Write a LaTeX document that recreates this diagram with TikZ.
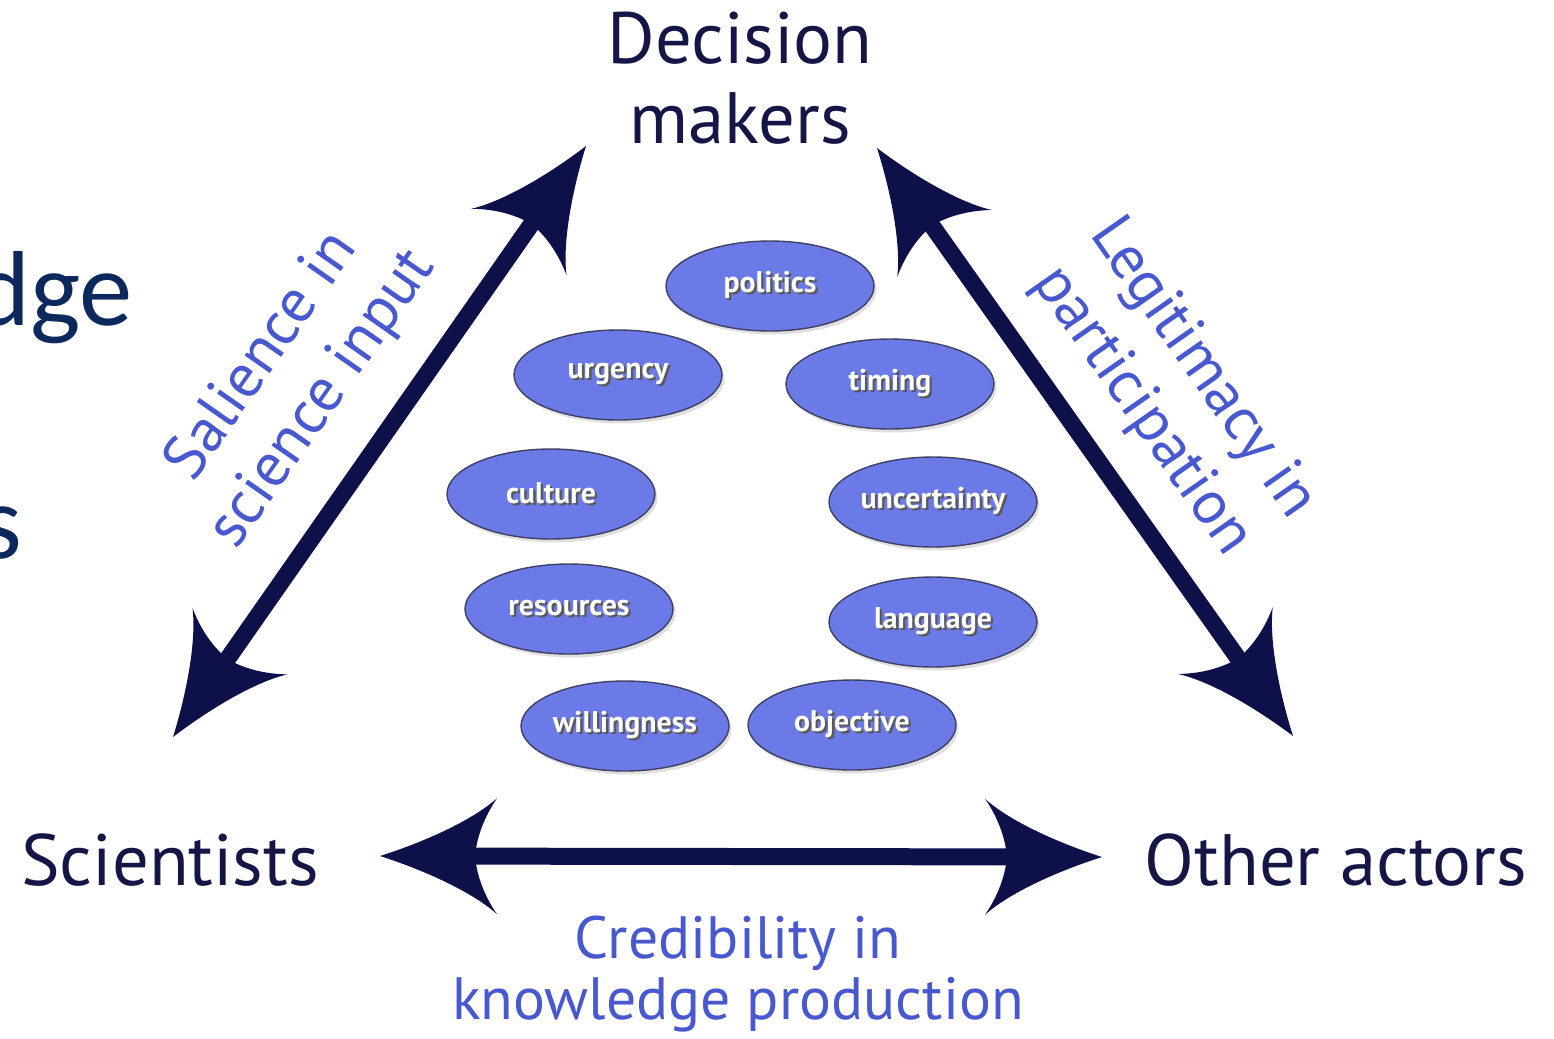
\documentclass[tikz,border=0pt]{standalone}
\usepackage{fontspec}
\setmainfont{PT Sans}
\newfontfamily\calfont{Carlito}
\usetikzlibrary{decorations.markings,shadows,shapes.geometric}

\definecolor{navy}{RGB}{14,16,74}
\definecolor{labdark}{RGB}{20,22,70}
\definecolor{labblue}{RGB}{72,88,206}
\definecolor{ellfill}{RGB}{108,122,232}
\definecolor{ellline}{RGB}{62,64,100}
\definecolor{slideblue}{RGB}{12,40,92}

\newcommand{\shtext}[1]{\makebox[0pt][l]{\kern1.3pt\raisebox{-1.3pt}{\textcolor{black!65}{#1}}}\textcolor{white}{#1}}
\newcommand{\arrhead}{\fill[navy] (0,0) .. controls (-50,16) and (-95,38) .. (-117,58) .. controls (-106,42) and (-97,22) .. (-95,0) .. controls (-97,-22) and (-106,-42) .. (-117,-58) .. controls (-95,-38) and (-50,-16) .. (0,0) -- cycle;}

\tikzset{
  ell/.style={ellipse, draw=ellline, line width=0.8pt, fill=ellfill,
    minimum width=4.16cm, minimum height=1.8cm, inner sep=0pt,
    font=\bfseries\fontsize{17}{20}\selectfont,
    drop shadow={opacity=0.25, shadow xshift=0.05cm, shadow yshift=-0.07cm}},
  actor/.style={font=\fontsize{41.4}{45.4}\selectfont, text=labdark, inner sep=0pt},
  bluelab/.style={font=\fontsize{34}{35.2}\selectfont, text=labblue, inner sep=0pt, align=center},
  rotlab/.style={font=\fontsize{35.1}{42}\selectfont, text=labblue, inner sep=0pt, align=center},
  dblarrow/.style={draw=navy, line width=0.34cm, shorten <=1.7cm, shorten >=1.7cm,
    postaction={decorate, decoration={markings,
      mark=at position 0 with {\begin{scope}[rotate=180]\arrhead\end{scope}},
      mark=at position 1 with {\arrhead}}}},
}

\begin{document}
\begin{tikzpicture}[x=0.02cm, y=-0.02cm]
\fill[white] (0,0) rectangle (1554,1038);
\useasboundingbox (0,0) rectangle (1554,1038);

% slide fragments
\node[font=\calfont\fontsize{60.7}{64}\selectfont, text=slideblue, anchor=base west, inner sep=0pt] (frag1) at (-26,325) {dge};
\node[font=\calfont\fontsize{60.7}{64}\selectfont, text=slideblue, anchor=base west, inner sep=0pt] (frag2) at (-20,558) {s};

% actors
\node[actor, align=center] (dm) at (740,78) {Decision\\makers};
\node[actor, anchor=base] (sci) at (170,885) {Scientists};
\node[actor, anchor=base] (oth) at (1336,885) {Other actors};

% arrow end points
\coordinate (sciL) at (173,737);
\coordinate (dmL) at (586,146);
\coordinate (dmR) at (877,148);
\coordinate (othR) at (1293,736);
\coordinate (sciB) at (380,856);
\coordinate (othB) at (1102,857);

\path[dblarrow] (sciL) -- (dmL);
\path[dblarrow] (dmR) -- (othR);
\path[dblarrow] (sciB) -- (othB);

% labels
\node[bluelab] (cred) at (738,974) {Credibility in\\knowledge production};
\node[rotlab, rotate=55] (sal) at (293,378) {Salience in\\science input};
\node[rotlab, rotate=-55] (leg) at (1172,390) {Legitimacy in\\participation};

% factors
\node[ell] (politics) at (770,286) {\shtext{politics}};
\node[ell] (urgency) at (618,375) {\shtext{urgency}};
\node[ell] (timing) at (890,384) {\shtext{timing}};
\node[ell] (culture) at (551,494) {\shtext{culture}};
\node[ell] (uncertainty) at (933,502) {\shtext{uncertainty}};
\node[ell] (resources) at (569,609) {\shtext{resources}};
\node[ell] (language) at (933,622) {\shtext{language}};
\node[ell] (willingness) at (625,726) {\shtext{willingness}};
\node[ell] (objective) at (852,725) {\shtext{objective}};
\end{tikzpicture}
\end{document}
